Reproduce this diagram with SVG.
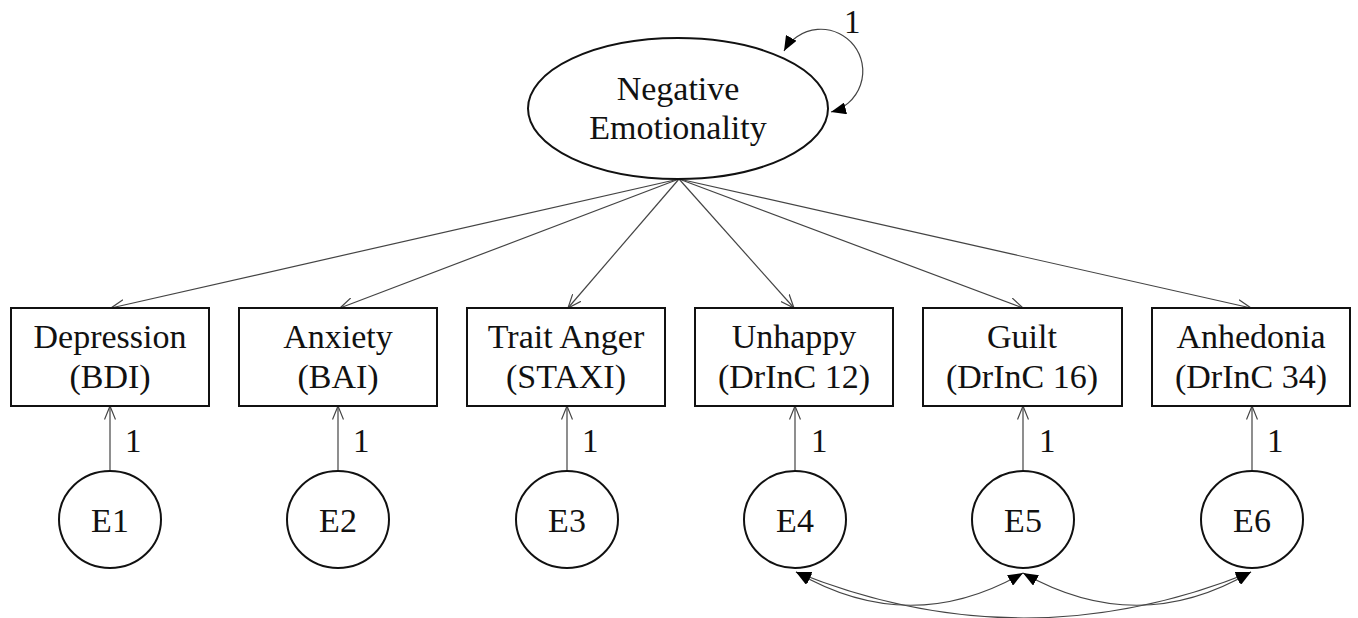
<svg xmlns="http://www.w3.org/2000/svg" width="1358" height="618" viewBox="0 0 1358 618" font-family="'Liberation Serif', 'DejaVu Serif', 'Times New Roman', Times, serif">
<style>
text{font-family:'Liberation Serif','DejaVu Serif','Times New Roman',Times,serif;font-size:34px;fill:#111;text-anchor:middle}
.box{fill:#fff;stroke:#111;stroke-width:2}
.lat{fill:#fff;stroke:#111;stroke-width:2}
.ld{fill:none;stroke:#444;stroke-width:1.2;marker-end:url(#open)}
.cv{fill:none;stroke:#444;stroke-width:1.2;marker-start:url(#solid);marker-end:url(#solid)}
.lbl{font-size:33px;text-anchor:start}
</style>
<defs>
<marker id="open" viewBox="0 0 14 12" refX="13.5" refY="6" markerWidth="14" markerHeight="12" markerUnits="userSpaceOnUse" orient="auto">
<path d="M0,0.5 L13.5,6 L0,11.5" fill="none" stroke="#444" stroke-width="1.2"/>
</marker>
<marker id="solid" viewBox="0 0 15 12" refX="15" refY="6" markerWidth="15" markerHeight="12" markerUnits="userSpaceOnUse" orient="auto-start-reverse">
<path d="M0,0 L15,6 L0,12 Z" fill="#000"/>
</marker>
</defs>
<g id="connectors">
<path class="ld" d="M679,179 L111,308"/>
<path class="ld" d="M679,179 L340,308"/>
<path class="ld" d="M679,179 L568,308"/>
<path class="ld" d="M679,179 L794,308"/>
<path class="ld" d="M679,179 L1023,308"/>
<path class="ld" d="M679,179 L1251,308"/>
<path class="ld" d="M110,471 L110,406"/>
<path class="ld" d="M338,471 L338,406"/>
<path class="ld" d="M567,471 L567,406"/>
<path class="ld" d="M795,471 L795,406"/>
<path class="ld" d="M1023,471 L1023,406"/>
<path class="ld" d="M1252,471 L1252,406"/>
<path class="cv" d="M784,51 A42,42 0 1 1 831,112"/>
<path class="cv" d="M796,572 Q910,638 1023,573"/>
<path class="cv" d="M1023,573 Q1138,638 1251,572"/>
<path class="cv" d="M796,572 Q1024,664 1251,572"/>
<text class="lbl" x="844" y="33">1</text>
<text class="lbl" x="125" y="452">1</text>
<text class="lbl" x="353" y="452">1</text>
<text class="lbl" x="582" y="452">1</text>
<text class="lbl" x="811" y="452">1</text>
<text class="lbl" x="1039" y="452">1</text>
<text class="lbl" x="1267" y="452">1</text>
</g>
<g id="negemo">
<ellipse class="lat" cx="678" cy="108.5" rx="150" ry="70.5"/>
<text x="678" y="100">Negative</text>
<text x="678" y="139">Emotionality</text>
</g>
<g id="depression">
<rect class="box" x="11" y="308" width="198" height="98"/>
<text x="110" y="348">Depression</text>
<text x="110" y="388">(BDI)</text>
</g>
<g id="anxiety">
<rect class="box" x="239" y="308" width="198" height="98"/>
<text x="338" y="348">Anxiety</text>
<text x="338" y="388">(BAI)</text>
</g>
<g id="anger">
<rect class="box" x="467" y="308" width="198" height="98"/>
<text x="566" y="348">Trait Anger</text>
<text x="566" y="388">(STAXI)</text>
</g>
<g id="unhappy">
<rect class="box" x="695" y="308" width="198" height="98"/>
<text x="794" y="348">Unhappy</text>
<text x="794" y="388">(DrInC 12)</text>
</g>
<g id="guilt">
<rect class="box" x="923" y="308" width="199" height="98"/>
<text x="1022" y="348">Guilt</text>
<text x="1022" y="388">(DrInC 16)</text>
</g>
<g id="anhedonia">
<rect class="box" x="1152" y="308" width="198" height="98"/>
<text x="1251" y="348">Anhedonia</text>
<text x="1251" y="388">(DrInC 34)</text>
</g>
<g id="e1"><ellipse class="lat" cx="110" cy="519.5" rx="51" ry="48.5"/><text x="110" y="532">E1</text></g>
<g id="e2"><ellipse class="lat" cx="338" cy="519.5" rx="51" ry="48.5"/><text x="338" y="532">E2</text></g>
<g id="e3"><ellipse class="lat" cx="567" cy="519.5" rx="51" ry="48.5"/><text x="567" y="532">E3</text></g>
<g id="e4"><ellipse class="lat" cx="795" cy="519.5" rx="51" ry="48.5"/><text x="795" y="532">E4</text></g>
<g id="e5"><ellipse class="lat" cx="1023" cy="519.5" rx="51" ry="48.5"/><text x="1023" y="532">E5</text></g>
<g id="e6"><ellipse class="lat" cx="1252" cy="519.5" rx="51" ry="48.5"/><text x="1252" y="532">E6</text></g>
</svg>
